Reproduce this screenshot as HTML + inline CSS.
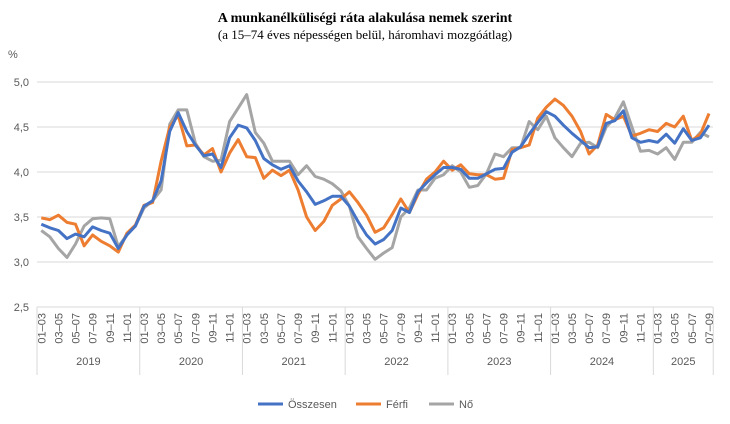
<!DOCTYPE html>
<html><head><meta charset="utf-8"><style>
body{margin:0;background:#fff;width:730px;height:424px;overflow:hidden}
svg{display:block}
</style></head><body>
<svg id="c" width="730" height="424" xmlns="http://www.w3.org/2000/svg" font-family="Liberation Sans, sans-serif">
<text x="365" y="22" text-anchor="middle" font-family="Liberation Serif, serif" font-weight="bold" font-size="14" fill="#000">A munkanélküliségi ráta alakulása nemek szerint</text>
<text x="365" y="39" text-anchor="middle" font-family="Liberation Serif, serif" font-size="13" fill="#000">(a 15–74 éves népességen belül, háromhavi mozgóátlag)</text>
<text x="8" y="58" font-size="11" fill="#595959">%</text>
<g id="g"></g>
</svg>
<script>
var blue=[3.42,3.38,3.35,3.26,3.31,3.28,3.39,3.35,3.32,3.15,3.30,3.40,
3.62,3.68,3.90,4.45,4.66,4.45,4.30,4.18,4.20,4.05,4.38,4.52,
4.49,4.35,4.15,4.08,4.03,4.07,3.90,3.78,3.64,3.68,3.73,3.73,
3.62,3.45,3.30,3.20,3.25,3.35,3.60,3.55,3.78,3.88,3.97,4.05,
4.05,4.03,3.93,3.93,3.98,4.03,4.04,4.22,4.28,4.42,4.55,4.67,
4.62,4.52,4.43,4.35,4.27,4.28,4.54,4.57,4.68,4.38,4.33,4.35,
4.33,4.42,4.32,4.48,4.35,4.38,4.52];
var orange=[3.49,3.47,3.52,3.44,3.42,3.18,3.30,3.23,3.18,3.11,3.32,3.41,
3.63,3.66,4.12,4.50,4.63,4.29,4.30,4.19,4.26,4.00,4.21,4.36,
4.17,4.16,3.93,4.02,3.96,4.02,3.80,3.50,3.35,3.45,3.63,3.70,
3.78,3.66,3.52,3.33,3.38,3.53,3.70,3.55,3.75,3.92,4.00,4.12,
4.02,4.08,3.98,3.97,3.97,3.92,3.93,4.25,4.27,4.30,4.60,4.72,
4.81,4.74,4.62,4.45,4.20,4.30,4.64,4.58,4.62,4.40,4.43,4.47,
4.45,4.54,4.50,4.62,4.35,4.42,4.65];
var gray=[3.35,3.28,3.15,3.05,3.20,3.40,3.48,3.49,3.48,3.17,3.30,3.40,
3.60,3.68,3.80,4.53,4.69,4.69,4.32,4.17,4.12,4.13,4.56,4.71,
4.86,4.44,4.32,4.12,4.12,4.12,3.97,4.07,3.95,3.92,3.87,3.79,
3.62,3.28,3.15,3.03,3.10,3.16,3.50,3.60,3.80,3.80,3.93,3.97,
4.07,4.00,3.83,3.85,3.98,4.20,4.17,4.27,4.27,4.56,4.47,4.62,
4.38,4.27,4.17,4.32,4.33,4.27,4.50,4.60,4.78,4.50,4.23,4.24,
4.20,4.27,4.14,4.33,4.33,4.44,4.39];
var s='';
function X(i){return 37+8.56*(i+0.5);}
function Y(v){return 82+(5-v)*90;}
var ticks=['5,0','4,5','4,0','3,5','3,0','2,5'];
for(var k=0;k<6;k++){var y=82+45*k;
s+='<line x1="37" x2="713" y1="'+y+'" y2="'+y+'" stroke="#d9d9d9" stroke-width="1"/>';
s+='<text x="29" y="'+(y+4)+'" text-anchor="end" font-size="11" fill="#595959">'+ticks[k]+'</text>';}
var yrs=['2019','2020','2021','2022','2023','2024','2025'];
for(var yi=0;yi<=7;yi++){var n=yi<7?yi*12:79;var x=37+8.56*n;
s+='<line x1="'+x+'" x2="'+x+'" y1="307" y2="375" stroke="#d9d9d9"/>';}
for(var yi=0;yi<7;yi++){var a=37+8.56*yi*12,b=yi<6?a+8.56*12:37+8.56*79;
s+='<text x="'+((a+b)/2)+'" y="365" text-anchor="middle" font-size="11" fill="#595959">'+yrs[yi]+'</text>';}
var lab=['01–03','03–05','05–07','07–09','09–11','11–01'];
for(var i=0;i<79;i++){if(i%2)continue;var x=X(i)+4;
s+='<text transform="translate('+x+',313) rotate(-90)" text-anchor="end" font-size="11" fill="#595959">'+lab[(i%12)/2]+'</text>';}
function line(d,c){var p='';for(var i=0;i<d.length;i++)p+=(i?'L':'M')+X(i).toFixed(1)+','+Y(d[i]).toFixed(1);
return '<path d="'+p+'" fill="none" stroke="'+c+'" stroke-width="3" stroke-linejoin="round"/>';}
s+=line(gray,'#a5a5a5')+line(orange,'#ed7d31')+line(blue,'#4472c4');
var L=[[258,'#4472c4','Összesen'],[356,'#ed7d31','Férfi'],[429,'#a5a5a5','Nő']];
L.forEach(function(l){s+='<line x1="'+l[0]+'" x2="'+(l[0]+25)+'" y1="404" y2="404" stroke="'+l[1]+'" stroke-width="3"/>';
s+='<text x="'+(l[0]+30)+'" y="408" font-size="11" fill="#595959">'+l[2]+'</text>';});
document.getElementById('g').innerHTML=s;
</script>
</body></html>
